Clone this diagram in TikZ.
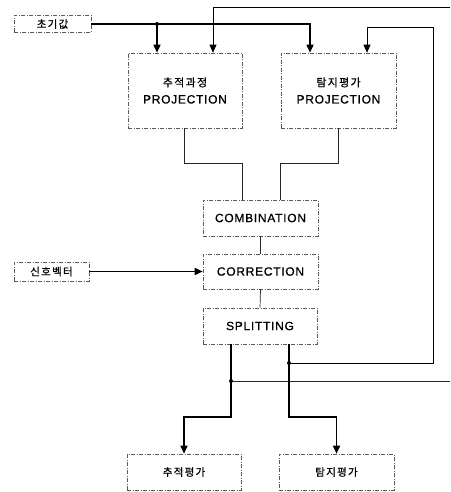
\documentclass[tikz,border=0pt]{standalone}
\usepackage{fontspec}
\setmainfont{Liberation Sans}
\newfontfamily\krfont[LetterSpace=12, FakeBold=0.6]{Noto Sans CJK KR}
\newfontfamily\latfont[LetterSpace=6, FakeBold=0.8]{Liberation Sans}
\usetikzlibrary{arrows.meta, positioning}
\tikzset{
  % dashed boxes of the flow chart
  blk/.style  ={draw=black!65, dash pattern=on 4pt off 1.5pt on 1pt off 1.5pt,
                line width=0.6pt, inner sep=0pt, align=center},
  inbox/.style={blk, minimum height=17pt, font=\krfont\fontsize{10.5}{12}\selectfont},
  projbox/.style={blk, minimum width=114pt, minimum height=75pt,
                font=\latfont\fontsize{12}{17}\selectfont},
  stepbox/.style={blk, minimum width=115pt, minimum height=36pt,
                font=\latfont\fontsize{12}{14}\selectfont},
  outbox/.style={blk, minimum width=114pt, minimum height=36pt,
                font=\krfont\fontsize{10.5}{12}\selectfont},
  ln/.style   ={line width=0.7pt, black!85},
  thk/.style  ={line width=1.6pt, -{Triangle[length=8pt, width=7pt]}},
  fb/.style   ={line width=0.7pt, -{Triangle[length=8pt, width=7pt]}},
  dot/.style  ={fill=black},
}

\begin{document}
\begin{tikzpicture}[x=1pt, y=-1pt]
  \useasboundingbox (0,0) rectangle (450,492);
  % inputs
  \node[inbox, minimum width=77pt] (init) at (52.5,24)  {초기값};
  \node[inbox, minimum width=75pt, minimum height=19pt] (sig) at (51.5,271.5) {신호벡터};
  % projection blocks
  \node[projbox] (proj1) at (185,90.5)   {{\krfont\fontsize{11}{12}\selectfont 추적과정}\\PROJECTION};
  \node[projbox, minimum width=115pt] (proj2) at (338.5,90.5) {{\krfont\fontsize{11}{12}\selectfont 탐지평가}\\PROJECTION};
  % filter steps
  \node[stepbox] (comb)  at (260.5,218)   {COMBINATION};
  \node[stepbox, minimum height=35pt] (corr) at (260.5,271.5) {CORRECTION};
  \node[stepbox, minimum width=114pt] (split) at (260,326) {SPLITTING};
  % outputs
  \node[outbox] (out1) at (184,472)   {추적평가};
  \node[outbox, minimum width=115pt] (out2) at (336.5,472) {탐지평가};

  \coordinate (j1) at (157,24);
  \coordinate (j2) at (231,381);
  \coordinate (j3) at (289,363);
  \coordinate (fbA) at (450,7);
  \coordinate (fbB) at (433,27);
  \coordinate (fbC) at (450,381);

  % initial value
  \draw[thk] (init.east) -| ([xshift=-28.5]proj2.north);
  \draw[thk] (j1) -- (j1 |- proj1.north);
  \fill[dot] (j1) circle (2);
  % feedback
  \draw[fb] (fbA) -| ([xshift=28]proj1.north);
  \draw[fb] (j3) -| (fbB) -| ([xshift=28.5]proj2.north);
  \draw[ln] (j2) -- (fbC);
  % projections into combination
  \draw[ln] ([xshift=-1]proj1.south) -- ++(0,35) -| ([xshift=-18.5]comb.north);
  \draw[ln] ([xshift=-0.5]proj2.south) -- ++(0,35) -| ([xshift=19.5]comb.north);
  \draw[ln] (comb.south) -- (corr.north);
  \draw[ln] (corr.south) -- (split.north);
  \draw[thk] (sig.east) -- (corr.west);
  % splitting outputs
  \draw[thk] ([xshift=-29]split.south) -- (j2) -- ++(0,36) -| (out1.north);
  \draw[thk] ([xshift=29]split.south) -- (j3) -- ++(0,54) -| (out2.north);
  \fill[dot] (j2) circle (2);
  \fill[dot] (j3) circle (2);
\end{tikzpicture}
\end{document}
